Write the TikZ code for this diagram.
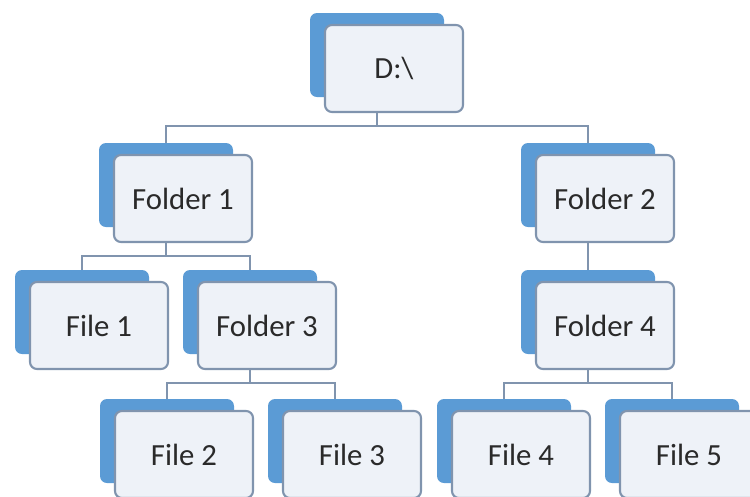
\documentclass[tikz,border=0pt]{standalone}
\usepackage{fontspec}
\setmainfont{Carlito}
\usepackage{tikz}
\usetikzlibrary{calc,backgrounds}
\definecolor{shade}{HTML}{5B9BD5}
\definecolor{paper}{HTML}{EEF2F8}
\definecolor{rim}{HTML}{8094AE}
\definecolor{ink}{HTML}{2A2A2A}
\tikzset{
  shadowbox/.style={rectangle, rounded corners=0.14cm, fill=shade, inner sep=0pt,
    minimum width=2.68cm, minimum height=1.68cm},
  cardbox/.style={rectangle, rounded corners=0.14cm, fill=paper, draw=rim, line width=1.2pt,
    inner sep=0pt, minimum width=2.76cm, minimum height=1.74cm,
    text=ink, font=\fontsize{17.5}{21}\selectfont},
  link/.style={draw=rim, line width=1.1pt},
}

\begin{document}
\begin{tikzpicture}
  \clip (0,-9.92) rectangle (15,0);

  % blue shadow first, then the card on top of it
  \foreach \n/\x/\y/\txt in {
      d/7.54/-1.10/{D:\textbackslash},
      fa/3.32/-3.70/{Folder 1}, fb/11.76/-3.70/{Folder 2},
      ea/1.64/-6.24/{File 1}, fc/5.00/-6.24/{Folder 3}, fd/11.76/-6.24/{Folder 4},
      eb/3.34/-8.82/{File 2}, ec/6.70/-8.82/{File 3},
      ed/10.08/-8.82/{File 4}, ee/13.44/-8.82/{File 5}} {
    \node[shadowbox] (\n back) at (\x,\y) {};
    \node[cardbox] (\n) at ($(\x,\y)+(0.34,-0.27)$) {\txt};
  }

  \begin{pgfonlayer}{background}
    \draw[link] (dback.south) -- ++(0,-0.58) -| (faback.north);
    \draw[link] (dback.south) -- ++(0,-0.58) -| (fbback.north);
    \draw[link] (faback.south) -- ++(0,-0.58) -| (eaback.north);
    \draw[link] (faback.south) -- ++(0,-0.58) -| (fcback.north);
    \draw[link] (fbback.south) -- (fdback.north);
    \draw[link] (fcback.south) -- ++(0,-0.58) -| (ebback.north);
    \draw[link] (fcback.south) -- ++(0,-0.58) -| (ecback.north);
    \draw[link] (fdback.south) -- ++(0,-0.58) -| (edback.north);
    \draw[link] (fdback.south) -- ++(0,-0.58) -| (eeback.north);
  \end{pgfonlayer}
\end{tikzpicture}
\end{document}
